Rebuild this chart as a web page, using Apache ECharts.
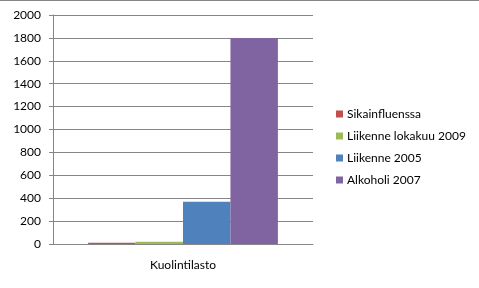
<!DOCTYPE html>
<html><head><meta charset="utf-8">
<script src="https://cdn.jsdelivr.net/npm/echarts@6/dist/echarts.min.js"></script>
<style>html,body{margin:0;padding:0;background:#fff}#c{width:479px;height:288px}</style>
</head><body><div id="c"></div>
<script>
const categories = ['Kuolintilasto'];
const seriesNames = ['Sikainfluenssa', 'Liikenne lokakuu 2009', 'Liikenne 2005', 'Alkoholi 2007'];
const sikainfluenssa = [10];
const liikenneLokakuu2009 = [20];
const liikenne2005 = [370];
const alkoholi2007 = [1800];
const yTicks = [0, 200, 400, 600, 800, 1000, 1200, 1400, 1600, 1800, 2000];
const colors = ['#C0504D', '#9BBB59', '#4F81BD', '#8064A2'];
const values = [sikainfluenssa, liikenneLokakuu2009, liikenne2005, alkoholi2007];
const font = 'Lato, "Open Sans", sans-serif';
const chart = echarts.init(document.getElementById('c'));
chart.setOption({
  animation: false,
  color: colors,
  graphic: [{type: 'line', shape: {x1: 0, y1: 0.5, x2: 479, y2: 0.5}, style: {stroke: '#868686', lineWidth: 1}}],
  grid: {left: 53, right: 166, top: 15, bottom: 44},
  legend: {
    orient: 'vertical', left: 331, top: 103, itemWidth: 7, itemHeight: 7, itemGap: 10,
    icon: 'rect',
    textStyle: {fontFamily: font, fontSize: 12, color: '#000', padding: [0, 0, 0, -1]},
    data: seriesNames
  },
  xAxis: {
    type: 'category', data: categories,
    axisLine: {lineStyle: {color: '#868686'}},
    axisTick: {show: false},
    axisLabel: {fontFamily: font, fontSize: 12, color: '#000', margin: 15}
  },
  yAxis: {
    type: 'value', min: 0, max: yTicks[yTicks.length - 1], interval: yTicks[1] - yTicks[0],
    axisLine: {show: true, lineStyle: {color: '#868686'}},
    axisTick: {show: true, length: 4, lineStyle: {color: '#868686'}},
    splitLine: {lineStyle: {color: '#868686'}},
    axisLabel: {fontFamily: font, fontSize: 12, color: '#000', margin: 12, formatter: v => String(v)}
  },
  series: seriesNames.map((n, i) => ({
    name: n, type: 'bar', data: values[i], barGap: '0%', barCategoryGap: '27%'
  }))
});
</script></body></html>
